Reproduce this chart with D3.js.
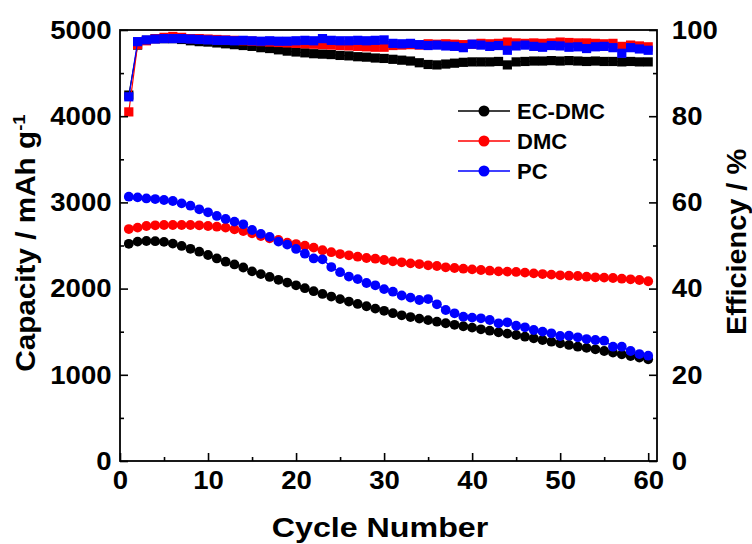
<!DOCTYPE html>
<html><head><meta charset="utf-8">
<script src="https://cdn.jsdelivr.net/npm/d3@7"></script>
<style>
body{margin:0;background:#fff}
svg text{font-family:"Liberation Sans",Arial,sans-serif;font-weight:bold;fill:#000}
</style>
</head><body>
<svg id="chart" width="752" height="544"></svg>
<script>
// ---------- data ----------
const cycles = d3.range(1, 61);
const seriesNames = ["EC-DMC", "DMC", "PC"];
const seriesColors = ["#000000", "#ff0000", "#0000ff"];

const capECDMC = [2520,2545,2552,2550,2542,2522,2495,2462,2428,2390,2350,2312,2280,2245,2200,2168,2135,2102,2070,2038,
  2005,1970,1938,1908,1878,1850,1822,1795,1768,1742,1715,1690,1670,1652,1634,1616,1598,1580,1563,1547,
  1528,1512,1493,1478,1462,1442,1423,1404,1384,1365,1346,1326,1312,1296,1276,1257,1237,1218,1199,1179];
const capDMC = [2691,2707,2726,2734,2738,2738,2738,2738,2734,2726,2718,2707,2688,2668,2641,2610,2583,2564,2533,2517,
  2498,2475,2445,2422,2401,2386,2370,2355,2347,2332,2316,2305,2293,2285,2270,2262,2247,2239,2231,2223,
  2216,2208,2200,2197,2193,2185,2177,2169,2162,2154,2150,2146,2138,2131,2127,2123,2115,2108,2100,2085];
const capPC = [3066,3058,3046,3039,3028,3016,2989,2962,2920,2885,2843,2808,2777,2746,2680,2635,2600,2545,2510,2460,
  2405,2350,2340,2250,2190,2140,2110,2065,2038,1994,1964,1920,1895,1868,1879,1818,1752,1713,1674,1663,
  1655,1636,1597,1609,1570,1551,1520,1501,1481,1450,1454,1435,1415,1404,1396,1326,1326,1276,1241,1222];

const effECDMC = [84.9,96.5,97.6,98.0,98.0,98.0,97.8,97.5,97.3,97.2,97.0,96.8,96.6,96.4,96.2,95.9,95.7,95.4,95.1,94.9,
  94.7,94.5,94.4,94.3,94.1,94.0,93.8,93.7,93.5,93.4,93.2,93.0,92.8,92.4,92.0,91.9,92.1,92.3,92.5,92.6,
  92.6,92.6,92.7,91.9,92.6,92.7,92.8,92.8,92.9,92.8,92.9,92.8,92.7,92.8,92.7,92.7,92.6,92.7,92.6,92.6];
const effDMC = [81.0,96.6,97.5,98.0,98.3,98.5,98.3,98.0,98.0,97.9,97.8,97.7,97.6,97.5,97.4,97.3,97.2,97.1,97.0,96.9,
  96.8,96.7,96.6,96.5,96.4,96.3,96.2,96.1,96.0,96.0,96.4,96.5,96.6,96.5,96.8,96.7,96.8,96.7,96.6,96.7,
  96.9,96.8,96.9,97.2,97.0,96.9,97.0,96.9,97.0,97.2,97.1,97.0,97.0,96.9,96.8,96.9,96.2,96.5,96.3,96.1];
const effPC = [84.5,97.3,97.7,97.9,98.0,98.0,98.0,97.9,97.8,97.7,97.6,97.6,97.5,97.6,97.5,97.4,97.5,97.4,97.4,97.5,
  97.6,97.5,98.0,97.6,97.5,97.5,97.6,97.5,97.6,97.7,96.9,96.8,96.9,96.6,96.4,96.5,96.3,96.2,95.9,96.7,
  96.5,96.2,96.4,95.3,96.3,96.5,96.2,96.0,96.4,96.3,96.0,96.1,95.7,96.1,96.2,95.9,94.6,95.9,95.6,95.3];

const xTicks = [0,10,20,30,40,50,60];
const xMinor = [5,15,25,35,45,55];
const capTicks = [0,1000,2000,3000,4000,5000];
const capMinor = [500,1500,2500,3500,4500];
const effTicks = [0,20,40,60,80,100];
const effMinor = [10,30,50,70,90];

// ---------- layout ----------
const L = 120, R = 657, T = 30, B = 461;
const svg = d3.select("#chart");
const x = d3.scaleLinear().domain([0, 61]).range([L, R]);
const yC = d3.scaleLinear().domain([0, 5000]).range([B, T]);
const yE = d3.scaleLinear().domain([0, 100]).range([B, T]);

const capSeries = [capECDMC, capDMC, capPC];
const effSeries = [effECDMC, effDMC, effPC];

// ---------- marks ----------
const plot = svg.append("g");
effSeries.forEach((vals, i) => {
  const pts = cycles.map((c, k) => [c, vals[k]]);
  plot.append("path").datum(pts)
    .attr("fill", "none").attr("stroke", seriesColors[i]).attr("stroke-width", 1.2)
    .attr("d", d3.line().x(d => x(d[0])).y(d => yE(d[1])));
  plot.append("g").selectAll("rect").data(pts).join("rect")
    .attr("x", d => x(d[0]) - 4.6).attr("y", d => yE(d[1]) - 4.6)
    .attr("width", 9.2).attr("height", 9.2).attr("fill", seriesColors[i]);
});
capSeries.forEach((vals, i) => {
  const pts = cycles.map((c, k) => [c, vals[k]]);
  plot.append("path").datum(pts)
    .attr("fill", "none").attr("stroke", seriesColors[i]).attr("stroke-width", 1.2)
    .attr("d", d3.line().x(d => x(d[0])).y(d => yC(d[1])));
  plot.append("g").selectAll("circle").data(pts).join("circle")
    .attr("cx", d => x(d[0])).attr("cy", d => yC(d[1])).attr("r", 4.9)
    .attr("fill", seriesColors[i]);
});

// ---------- axes ----------
const fs = 26;
function styleAxis(g) {
  g.select(".domain").remove();
  g.selectAll(".tick line").attr("stroke", "#000").attr("stroke-width", 1.6);
  g.selectAll("text").style("font-size", fs + "px");
}
svg.append("g").attr("transform", `translate(0,${B})`)
  .call(d3.axisBottom(x).tickValues(xTicks).tickFormat(d3.format("d")).tickSize(-8).tickPadding(10))
  .call(styleAxis)
  .selectAll("text").attr("transform", "scale(1.06,1)");
svg.append("g").attr("transform", `translate(0,${B})`)
  .call(d3.axisBottom(x).tickValues(xMinor).tickFormat("").tickSize(-4))
  .call(styleAxis);
svg.append("g").attr("transform", `translate(${L},0)`)
  .call(d3.axisLeft(yC).tickValues(capTicks).tickFormat(d3.format("d")).tickSize(-8).tickPadding(8))
  .call(styleAxis)
  .selectAll("text").attr("transform", "scale(1.06,1)");
svg.append("g").attr("transform", `translate(${L},0)`)
  .call(d3.axisLeft(yC).tickValues(capMinor).tickFormat("").tickSize(-4))
  .call(styleAxis);
svg.append("g").attr("transform", `translate(${R},0)`)
  .call(d3.axisRight(yE).tickValues(effTicks).tickFormat(d3.format("d")).tickSize(-8).tickPadding(14))
  .call(styleAxis)
  .selectAll("text").attr("transform", "scale(1.06,1)");
svg.append("g").attr("transform", `translate(${R},0)`)
  .call(d3.axisRight(yE).tickValues(effMinor).tickFormat("").tickSize(-4))
  .call(styleAxis);

svg.append("rect").attr("x", L).attr("y", T).attr("width", R - L).attr("height", B - T)
  .attr("fill", "none").attr("stroke", "#000").attr("stroke-width", 1.8);

// ---------- titles ----------
svg.append("text").attr("transform", "translate(380,537) scale(1.15,1)").attr("text-anchor", "middle")
  .style("font-size", "28px").text("Cycle Number");
const yt = svg.append("text").attr("transform", "translate(35,243) rotate(-90) scale(1.1,1)")
  .attr("text-anchor", "middle").style("font-size", "27px");
yt.append("tspan").text("Capacity / mAh g");
yt.append("tspan").attr("dy", -10).style("font-size", "17px").text("-1");
svg.append("text").attr("transform", "translate(746,242) rotate(-90) scale(1.07,1)")
  .attr("text-anchor", "middle").style("font-size", "27px").text("Efficiency / %");

// ---------- legend ----------
const lg = svg.append("g");
seriesNames.forEach((n, i) => {
  const yy = 111 + i * 30;
  lg.append("line").attr("x1", 458).attr("x2", 510).attr("y1", yy).attr("y2", yy)
    .attr("stroke", seriesColors[i]).attr("stroke-width", 1.5);
  lg.append("circle").attr("cx", 484).attr("cy", yy).attr("r", 5.5).attr("fill", seriesColors[i]);
  lg.append("text").attr("x", 517).attr("y", yy).attr("dy", "0.36em")
    .style("font-size", "22px").text(n);
});
</script>
</body></html>
